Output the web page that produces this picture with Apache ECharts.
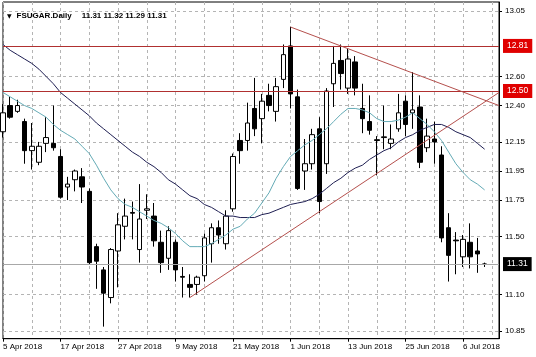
<!DOCTYPE html>
<html><head><meta charset="utf-8">
<script src="https://cdn.jsdelivr.net/npm/echarts@6/dist/echarts.min.js"></script>
<style>html,body{margin:0;padding:0;background:#fff}#c{width:536px;height:357px}</style>
</head><body><div id="c"></div>
<script>
// ---- data ----
const dates = [
  '5 Apr 2018','6 Apr 2018','9 Apr 2018','10 Apr 2018','11 Apr 2018','12 Apr 2018','13 Apr 2018','16 Apr 2018','17 Apr 2018','18 Apr 2018',
  '19 Apr 2018','20 Apr 2018','23 Apr 2018','24 Apr 2018','25 Apr 2018','26 Apr 2018','27 Apr 2018','30 Apr 2018',
  '1 May 2018','2 May 2018','3 May 2018','4 May 2018','7 May 2018','8 May 2018','9 May 2018','10 May 2018','11 May 2018','14 May 2018',
  '15 May 2018','16 May 2018','17 May 2018','18 May 2018','21 May 2018','22 May 2018','23 May 2018','24 May 2018','25 May 2018','29 May 2018',
  '30 May 2018','31 May 2018',
  '1 Jun 2018','4 Jun 2018','5 Jun 2018','6 Jun 2018','7 Jun 2018','8 Jun 2018','11 Jun 2018','12 Jun 2018','13 Jun 2018','14 Jun 2018',
  '15 Jun 2018','18 Jun 2018','19 Jun 2018','20 Jun 2018','21 Jun 2018','22 Jun 2018','25 Jun 2018','26 Jun 2018','27 Jun 2018','28 Jun 2018',
  '29 Jun 2018',
  '2 Jul 2018','3 Jul 2018','5 Jul 2018','6 Jul 2018','9 Jul 2018','10 Jul 2018','11 Jul 2018'
];
const futureDates = ['12 Jul 2018','13 Jul 2018'];

const opens = [12.22,12.40,12.36,12.29,12.09,12.01,12.14,12.14,12.05,11.84,
  11.89,11.91,11.81,11.43,11.27,11.08,11.40,11.57,11.665,11.41,
  11.68,11.64,11.46,11.35,11.46,11.225,11.17,11.17,11.23,11.45,
  11.56,11.45,11.69,12.16,12.16,12.38,12.31,12.47,12.36,12.58,
  12.81,12.46,11.95,12.00,12.24,12.00,12.55,12.71,12.52,12.70,
  12.38,12.29,12.165,12.18,12.14,12.24,12.43,12.35,12.39,12.11,
  12.17,12.06,11.56,11.475,11.36,11.46,11.40,11.31];
const closes = [12.35,12.32,12.40,12.09,12.12,12.12,12.18,12.11,11.77,11.86,
  11.95,11.84,11.32,11.33,11.11,11.41,11.58,11.64,11.66,11.62,
  11.69,11.47,11.32,11.54,11.27,11.22,11.15,11.22,11.49,11.56,
  11.51,11.64,12.05,12.09,12.28,12.24,12.43,12.40,12.53,12.75,
  12.48,11.83,12.00,12.20,11.74,12.50,12.69,12.62,12.72,12.52,
  12.31,12.23,12.16,12.185,12.17,12.35,12.27,12.37,12.01,12.19,
  12.15,11.49,11.37,11.47,11.48,11.36,11.38,11.31];
const highs = [12.41,12.46,12.44,12.31,12.28,12.15,12.32,12.40,12.10,11.91,
  11.96,11.97,11.83,11.45,11.29,11.42,11.66,11.76,11.74,11.86,
  11.79,11.73,11.54,11.57,11.48,11.29,11.24,11.23,11.52,11.59,
  11.61,11.68,12.07,12.21,12.42,12.59,12.48,12.55,12.59,12.82,
  12.94,12.51,12.17,12.24,12.32,12.52,12.81,12.82,12.79,12.74,
  12.55,12.47,12.19,12.40,12.27,12.48,12.47,12.63,12.47,12.31,
  12.29,12.12,11.66,11.53,11.51,11.59,11.49,11.32];
const lows = [12.18,12.31,12.35,12.00,11.96,11.99,12.08,12.09,11.76,11.75,
  11.81,11.73,11.31,11.14,10.88,11.04,11.15,11.48,11.48,11.32,
  11.62,11.43,11.25,11.27,11.19,11.08,11.08,11.10,11.19,11.32,
  11.45,11.41,11.67,12.00,12.09,12.19,12.14,12.36,12.29,12.52,
  12.38,11.82,11.82,11.96,11.66,11.93,12.39,12.51,12.48,12.47,
  12.21,12.20,11.92,12.10,12.10,12.22,12.19,12.24,11.97,12.08,
  12.00,11.46,11.19,11.24,11.29,11.28,11.25,11.29];

const maFast = [12.49,12.46,12.43,12.40,12.38,12.35,12.32,12.27,12.23,12.20,
  12.17,12.12,12.07,11.99,11.90,11.82,11.76,11.72,11.70,11.67,
  11.64,11.61,11.59,11.56,11.52,11.47,11.43,11.43,11.43,11.45,
  11.48,11.51,11.55,11.57,11.62,11.66,11.73,11.80,11.90,11.98,
  12.05,12.09,12.13,12.16,12.20,12.24,12.29,12.34,12.38,12.38,
  12.37,12.35,12.31,12.29,12.29,12.30,12.32,12.35,12.31,12.27,
  12.22,12.16,12.08,12.00,11.94,11.89,11.86,11.82];
const maSlow = [12.82,12.78,12.75,12.72,12.69,12.65,12.60,12.55,12.49,12.45,
  12.41,12.37,12.33,12.28,12.24,12.20,12.16,12.12,12.08,12.05,
  12.01,11.98,11.94,11.89,11.86,11.82,11.78,11.76,11.72,11.70,
  11.67,11.64,11.64,11.63,11.63,11.63,11.65,11.66,11.68,11.70,
  11.72,11.73,11.74,11.76,11.79,11.83,11.87,11.90,11.94,11.97,
  11.99,12.03,12.06,12.09,12.11,12.15,12.18,12.20,12.23,12.25,
  12.27,12.27,12.25,12.22,12.20,12.18,12.14,12.10];

const yTicks = [13.05,12.60,12.40,12.15,11.95,11.75,11.50,11.10,10.85];
const levels = [12.81, 12.50];
const bidPrice = 11.31;
const trendDown = [[40, 12.94], [69, 12.40]];   // [bar index, price]
const trendUp = [[26, 11.08], [69, 12.49]];
const symbolName = 'FSUGAR.Daily';
const lastBar = ['11.31','11.32','11.29','11.31'];

// ---- chart ----
const FONT = '"Liberation Sans", Arial, sans-serif';
const cats = dates.concat(futureDates);
const ohlc = opens.map((o, i) => [o, closes[i], lows[i], highs[i]]);
const trendStyle = {color:'#b5504d', width:1, type:'solid'};
const priceLabel = (txt, bg) => ({show:true, position:'end', formatter: txt, backgroundColor: bg,
  color:'#fff', padding:[3,4,2,4], fontSize:8.5, fontFamily: FONT, distance:4});

const chart = echarts.init(document.getElementById('c'));
chart.setOption({
  animation:false,
  backgroundColor:'#fff',
  title:{left:2, top:2, text:'{t|▼} {n|' + symbolName + '}  {n|' + lastBar.join(' ') + '}',
    textStyle:{rich:{t:{fontSize:6, fontFamily:'DejaVu Sans', color:'#000'}, n:{fontSize:8, fontFamily:FONT, color:'#000'}}}},
  grid:{left:2.5, top:2, width:496.5, height:336.7, show:true, borderColor:'#000', borderWidth:1, backgroundColor:'#fff'},
  xAxis:{type:'category', data:cats, boundaryGap:false,
    axisLine:{lineStyle:{color:'#000'}},
    axisTick:{show:true, interval:7, length:3, lineStyle:{color:'#000'}},
    axisLabel:{interval:7, align:'left', margin:4, fontSize:8, color:'#000', fontFamily:FONT},
    splitLine:{show:true, interval:3, lineStyle:{color:'#b4b4b4', type:[3,3]}}},
  yAxis:{type:'value', position:'right', min:10.797, max:13.112,
    axisLine:{show:true, lineStyle:{color:'#000'}},
    axisTick:{show:true, length:3, customValues:yTicks, lineStyle:{color:'#000'}},
    axisLabel:{customValues:yTicks, formatter:v => v.toFixed(2), margin:6, fontSize:8, color:'#000', fontFamily:FONT},
    splitLine:{show:true, lineStyle:{color:'#b4b4b4', type:[3,3]}}},
  series:[
    {type:'candlestick', data:ohlc, barWidth:5,
      itemStyle:{color:'#fff', color0:'#000', borderColor:'#000', borderColor0:'#000', borderWidth:1},
      markLine:{symbol:['none','none'], silent:true, animation:false,
        data:[
          {yAxis:levels[0], lineStyle:{color:'#b03030', width:1, type:'solid'}, label:priceLabel(levels[0].toFixed(2), '#e00000')},
          {yAxis:levels[1], lineStyle:{color:'#b03030', width:1, type:'solid'}, label:priceLabel(levels[1].toFixed(2), '#e00000')},
          {yAxis:bidPrice, lineStyle:{color:'#a8a8a8', width:1, type:'solid'}, label:priceLabel(bidPrice.toFixed(2), '#000')},
          [{coord:[cats[trendDown[0][0]], trendDown[0][1]], lineStyle:trendStyle, label:{show:false}},
           {coord:[cats[trendDown[1][0]], trendDown[1][1]], lineStyle:trendStyle, label:{show:false}}],
          [{coord:[cats[trendUp[0][0]], trendUp[0][1]], lineStyle:trendStyle, label:{show:false}},
           {coord:[cats[trendUp[1][0]], trendUp[1][1]], lineStyle:trendStyle, label:{show:false}}]
        ]}},
    {type:'line', data:maSlow, symbol:'none', lineStyle:{color:'#1e1e52', width:1}, z:3},
    {type:'line', data:maFast, symbol:'none', lineStyle:{color:'#64abb6', width:1}, z:3}
  ]
});
</script>
</body></html>
